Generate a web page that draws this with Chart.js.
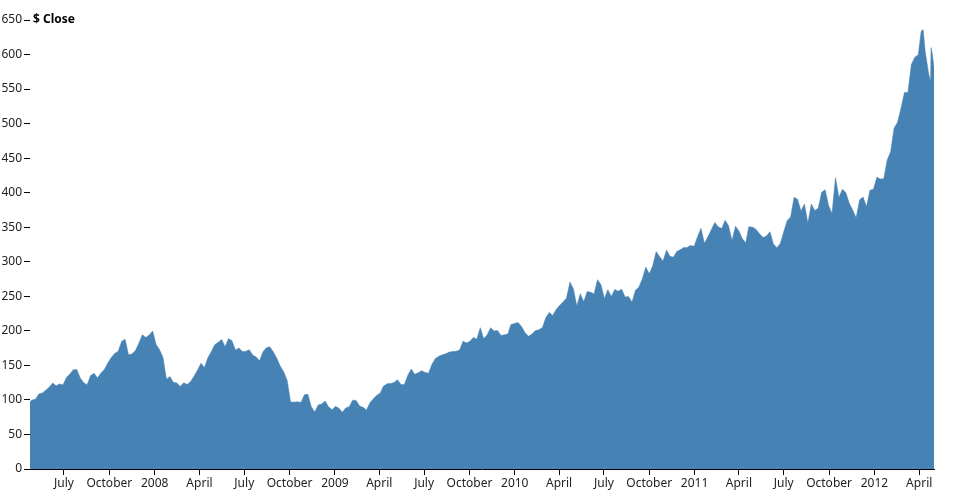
<!DOCTYPE html>
<html>
<head>
<meta charset="utf-8">
<style>
  html, body { margin: 0; padding: 0; background: #fff; }
  #wrap { width: 954px; height: 500px; }
</style>
<script src="https://cdn.jsdelivr.net/npm/chart.js@4.4.1/dist/chart.umd.min.js"></script>
</head>
<body>
<div id="wrap"><canvas id="closeChart" width="954" height="500"></canvas></div>
<script>
// ─── Data (weekly closes) ──────────────────────────────
const dates = [
  '2007-04-23','2007-04-27','2007-05-04','2007-05-11','2007-05-18','2007-05-25','2007-06-01','2007-06-08','2007-06-15','2007-06-22','2007-06-29',
  '2007-07-06','2007-07-13','2007-07-20','2007-07-27','2007-08-03','2007-08-10','2007-08-17','2007-08-24','2007-08-31',
  '2007-09-07','2007-09-14','2007-09-21','2007-09-28','2007-10-05','2007-10-12','2007-10-19','2007-10-26','2007-11-02',
  '2007-11-09','2007-11-16','2007-11-23','2007-11-30','2007-12-07','2007-12-14','2007-12-21','2007-12-28',
  '2008-01-04','2008-01-11','2008-01-18','2008-01-25','2008-02-01','2008-02-08','2008-02-15','2008-02-22','2008-02-29',
  '2008-03-07','2008-03-14','2008-03-20','2008-03-28','2008-04-04','2008-04-11','2008-04-18','2008-04-25',
  '2008-05-02','2008-05-09','2008-05-16','2008-05-23','2008-05-30','2008-06-06','2008-06-13','2008-06-20','2008-06-27',
  '2008-07-03','2008-07-11','2008-07-18','2008-07-25','2008-08-01','2008-08-08','2008-08-15','2008-08-22','2008-08-29',
  '2008-09-05','2008-09-12','2008-09-19','2008-09-26','2008-10-03','2008-10-10','2008-10-17','2008-10-24','2008-10-31',
  '2008-11-07','2008-11-14','2008-11-21','2008-11-28','2008-12-05','2008-12-12','2008-12-19','2008-12-26',
  '2009-01-02','2009-01-09','2009-01-16','2009-01-23','2009-01-30','2009-02-06','2009-02-13','2009-02-20','2009-02-27',
  '2009-03-06','2009-03-13','2009-03-20','2009-03-27','2009-04-03','2009-04-09','2009-04-17','2009-04-24',
  '2009-05-01','2009-05-08','2009-05-15','2009-05-22','2009-05-29','2009-06-05','2009-06-12','2009-06-19','2009-06-26',
  '2009-07-02','2009-07-10','2009-07-17','2009-07-24','2009-07-31','2009-08-07','2009-08-14','2009-08-21','2009-08-28',
  '2009-09-04','2009-09-11','2009-09-18','2009-09-25','2009-10-02','2009-10-09','2009-10-16','2009-10-23','2009-10-30',
  '2009-11-06','2009-11-13','2009-11-20','2009-11-27','2009-12-04','2009-12-11','2009-12-18','2009-12-24','2009-12-31',
  '2010-01-08','2010-01-15','2010-01-22','2010-01-29','2010-02-05','2010-02-12','2010-02-19','2010-02-26',
  '2010-03-05','2010-03-12','2010-03-19','2010-03-26','2010-04-01','2010-04-09','2010-04-16','2010-04-23','2010-04-30',
  '2010-05-07','2010-05-14','2010-05-21','2010-05-28','2010-06-04','2010-06-11','2010-06-18','2010-06-25',
  '2010-07-02','2010-07-09','2010-07-16','2010-07-23','2010-07-30','2010-08-06','2010-08-13','2010-08-20','2010-08-27',
  '2010-09-03','2010-09-10','2010-09-17','2010-09-24','2010-10-01','2010-10-08','2010-10-15','2010-10-22','2010-10-29',
  '2010-11-05','2010-11-12','2010-11-19','2010-11-26','2010-12-03','2010-12-10','2010-12-17','2010-12-23','2010-12-31',
  '2011-01-07','2011-01-14','2011-01-21','2011-01-28','2011-02-04','2011-02-11','2011-02-18','2011-02-25',
  '2011-03-04','2011-03-11','2011-03-18','2011-03-25','2011-04-01','2011-04-08','2011-04-15','2011-04-21','2011-04-29',
  '2011-05-06','2011-05-13','2011-05-20','2011-05-27','2011-06-03','2011-06-10','2011-06-17','2011-06-24',
  '2011-07-01','2011-07-08','2011-07-15','2011-07-22','2011-07-29','2011-08-05','2011-08-12','2011-08-19','2011-08-26',
  '2011-09-02','2011-09-09','2011-09-16','2011-09-23','2011-09-30','2011-10-07','2011-10-14','2011-10-21','2011-10-28',
  '2011-11-04','2011-11-11','2011-11-18','2011-11-25','2011-12-02','2011-12-09','2011-12-16','2011-12-23','2011-12-30',
  '2012-01-06','2012-01-13','2012-01-20','2012-01-27','2012-02-03','2012-02-10','2012-02-17','2012-02-24',
  '2012-03-02','2012-03-09','2012-03-16','2012-03-23','2012-03-30','2012-04-05','2012-04-09','2012-04-13',
  '2012-04-20','2012-04-24','2012-04-25','2012-04-27','2012-05-01'
];
const closes = [
  97, 99.9, 100.8, 108.7, 110, 114, 118.4, 124.5, 120.5, 123, 122,
  132.3, 137.7, 143.8, 143.9, 131.9, 125, 122, 135.3, 138.5,
  131.8, 138.8, 144.2, 153.5, 161.5, 167.3, 170.4, 184.7, 187.9,
  165.4, 166.4, 171.5, 182.2, 194.3, 190.4, 193.9, 199.8,
  180.1, 172.7, 161.4, 130, 133.8, 125.5, 124.6, 119.5, 125,
  122.3, 126.6, 133.3, 143, 153.1, 147.1, 161, 169.7,
  180, 183.5, 187.6, 177.1, 188.8, 185.6, 172.4, 175.3, 170.1,
  170.1, 172.6, 165.2, 162.1, 156.7, 169.6, 175.7, 176.8, 169.5,
  160.2, 148.9, 140.9, 128.2, 97.1, 96.8, 97.4, 96.4, 107.6,
  108.2, 90.2, 82.6, 92.7, 94, 98.3, 90, 85.8,
  90.8, 88.1, 82.3, 88.4, 90.1, 99.7, 99.2, 91.2, 89.3,
  85.3, 95.9, 101.6, 106.9, 109.9, 119.6, 123.4, 123.9,
  125.1, 129.2, 122.4, 122.5, 135.8, 144.7, 137, 139.5, 142.4,
  140, 138.5, 151.8, 160, 163.4, 165.5, 166.8, 169.2, 170.1,
  170.3, 172.2, 185, 182.4, 184.9, 190.5, 188.1, 204.6, 188.5,
  194.3, 204.5, 199.9, 200.6, 193.3, 194.3, 195.4, 209, 210.7,
  212, 205.9, 197.1, 192.1, 195.5, 200.4, 201.7, 204.6,
  219, 226.6, 222.3, 230.9, 236, 241.8, 247.4, 270.8, 261.1,
  235.9, 253.8, 242.3, 256.9, 256, 253.5, 274.1, 266.7,
  246.9, 259.6, 249.9, 259.9, 257.3, 260.1, 249.1, 249.6, 241.6,
  258.8, 263.4, 275.4, 292.3, 282.5, 294.1, 314.7, 307.5, 301,
  317.1, 308, 306.7, 315, 317.4, 320.6, 320.6, 323.6, 322.6,
  336.1, 348.5, 326.7, 336.1, 346.5, 356.9, 350.6, 348.2,
  360, 352, 330.7, 351.5, 344.6, 333.3, 327.5, 350.7, 350.1,
  346.7, 340.5, 335.2, 337.4, 343.4, 325.9, 320.3, 326.4,
  343.3, 359.7, 364.9, 393.3, 390.5, 373.6, 383.6, 356, 383.6,
  374.1, 377.5, 400.5, 404.3, 381.3, 369.8, 422, 392.9, 405,
  400.2, 384.6, 374.9, 363.6, 389.7, 393.6, 380, 403.4, 405,
  422.4, 419.8, 420.3, 447.3, 459.7, 493.4, 502.1, 522.4,
  545.2, 545.2, 585.6, 596.1, 599.6, 633.7, 636.2, 605.2,
  573, 560.3, 610, 603, 582.1
];

// axis ticks: quarter starts
const tickDates = [
  '2007-07-01','2007-10-01','2008-01-01','2008-04-01','2008-07-01','2008-10-01','2009-01-01',
  '2009-04-01','2009-07-01','2009-10-01','2010-01-01','2010-04-01','2010-07-01','2010-10-01',
  '2011-01-01','2011-04-01','2011-07-01','2011-10-01','2012-01-01','2012-04-01'
];
const tickLabels = [
  'July','October','2008','April','July','October','2009',
  'April','July','October','2010','April','July','October',
  '2011','April','July','October','2012','April'
];
const xStart = '2007-04-23';
const xEnd = '2012-05-01';
const yTitle = '$ Close';

const toMs = s => { const p = s.split('-').map(Number); return Date.UTC(p[0], p[1] - 1, p[2]); };

const points = dates.map((d, i) => ({ x: toMs(d), y: closes[i] }));

const FONT = { size: 12, family: '"Noto Sans", "DejaVu Sans", sans-serif' };

// ─── "$ Close" label next to top tick ─────────────────
const yTitlePlugin = {
    id: 'yTitle',
    afterDraw(chart) {
        const c = chart.ctx;
        const y = chart.scales.y.getPixelForValue(650);
        c.save();
        c.font = 'bold 12px "Noto Sans", "DejaVu Sans", sans-serif';
        c.fillStyle = '#000';
        c.textBaseline = 'middle';
        c.fillText(yTitle, chart.chartArea.left + 3, y);
        c.restore();
    }
};

new Chart(document.getElementById('closeChart'), {
    type: 'line',
    data: {
        datasets: [{
            label: yTitle,
            data: points,
            fill: 'origin',
            backgroundColor: '#4682b4',
            borderColor: '#4682b4',
            borderWidth: 0.5,
            pointRadius: 0,
            tension: 0
        }]
    },
    options: {
        responsive: false,
        animation: false,
        layout: { padding: { top: 20, right: 20, left: 0, bottom: 0 } },
        plugins: { legend: { display: false }, tooltip: { enabled: false } },
        scales: {
            x: {
                type: 'linear',
                min: toMs(xStart),
                max: toMs(xEnd),
                afterBuildTicks: scale => { scale.ticks = tickDates.map(d => ({ value: toMs(d) })); },
                afterFit: scale => { scale.height = 31; },
                ticks: {
                    autoSkip: false,
                    maxRotation: 0,
                    padding: 1,
                    font: FONT,
                    color: '#222',
                    callback: (v, i) => tickLabels[i]
                },
                grid: { drawOnChartArea: false, tickLength: 6, color: '#000' },
                border: { display: true, color: '#000' }
            },
            y: {
                min: 0,
                max: 650,
                afterFit: scale => { scale.width = 30; },
                ticks: { stepSize: 50, padding: 2, font: FONT, color: '#222' },
                grid: { drawOnChartArea: false, tickLength: 6, color: '#000' },
                border: { display: false }
            }
        }
    },
    plugins: [yTitlePlugin]
});
</script>
</body>
</html>
